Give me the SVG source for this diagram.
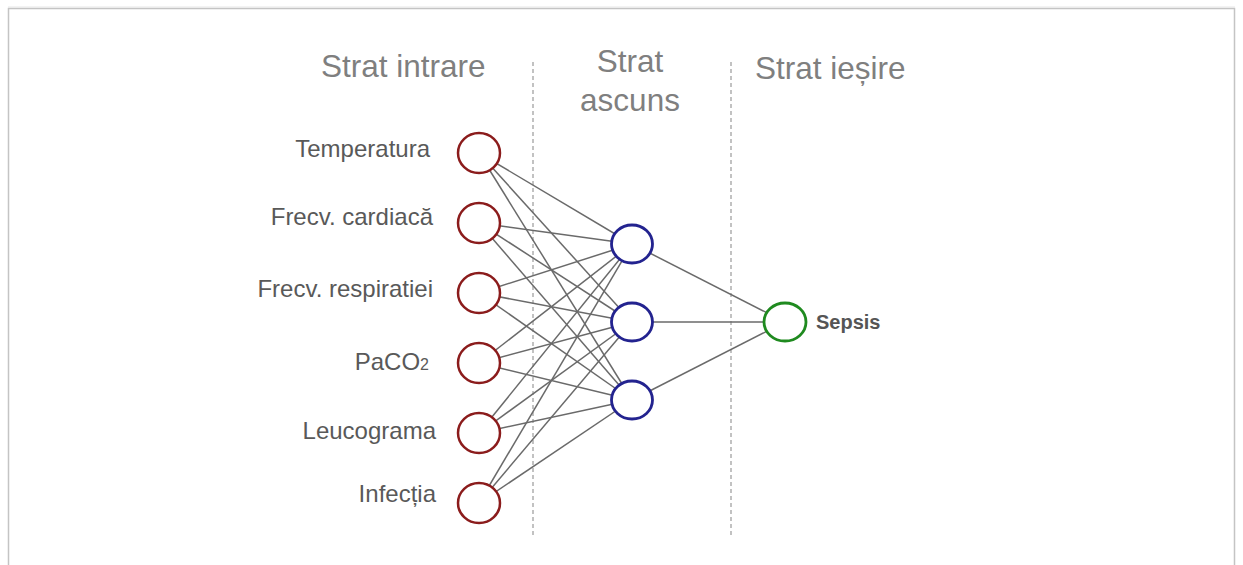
<svg xmlns="http://www.w3.org/2000/svg" width="1243" height="565" viewBox="0 0 1243 565">
  <style>
    .frame { fill: none; stroke: #c4c4c4; stroke-width: 1.5; }
    .sep { stroke: #c2c2c2; stroke-width: 2; stroke-dasharray: 4 3; }
    .head { font-family: "Liberation Sans", Arial, sans-serif; font-size: 31.5px; fill: #7f7f7f; }
    .lbl { font-family: "Liberation Sans", Arial, sans-serif; font-size: 24px; fill: #595959; text-anchor: end; }
    .out { font-family: "Liberation Sans", Arial, sans-serif; font-size: 20px; font-weight: bold; fill: #555555; }
    .edge { stroke: #6a6a6a; stroke-width: 1.5; }
    .in { fill: #ffffff; stroke: #8b1c1c; stroke-width: 2.5; }
    .hid { fill: #ffffff; stroke: #23238f; stroke-width: 2.8; }
    .res { fill: #ffffff; stroke: #1f8a1f; stroke-width: 2.8; }
  </style>

  <!-- page frame, open at the bottom -->
  <path class="frame" d="M8.5,565 V8.5 H1234.5 V565"/>
  <line x1="8" y1="7" x2="1235" y2="7" stroke="#e6e6e6" stroke-width="1"/>

  <!-- layer separators -->
  <line class="sep" x1="533" y1="62" x2="533" y2="535"/>
  <line class="sep" x1="731" y1="62" x2="731" y2="535"/>

  <!-- layer titles -->
  <text class="head" x="321" y="77">Strat intrare</text>
  <text class="head" x="630" y="72" text-anchor="middle">Strat</text>
  <text class="head" x="630" y="111" text-anchor="middle">ascuns</text>
  <text class="head" x="755" y="79">Strat ieșire</text>

  <!-- connectors -->
  <g id="connectors">
    <line class="edge" x1="479" y1="153" x2="632" y2="244"/>
    <line class="edge" x1="479" y1="153" x2="632" y2="322"/>
    <line class="edge" x1="479" y1="153" x2="632" y2="400"/>
    <line class="edge" x1="479" y1="223" x2="632" y2="244"/>
    <line class="edge" x1="479" y1="223" x2="632" y2="322"/>
    <line class="edge" x1="479" y1="223" x2="632" y2="400"/>
    <line class="edge" x1="479" y1="293" x2="632" y2="244"/>
    <line class="edge" x1="479" y1="293" x2="632" y2="322"/>
    <line class="edge" x1="479" y1="293" x2="632" y2="400"/>
    <line class="edge" x1="479" y1="363" x2="632" y2="244"/>
    <line class="edge" x1="479" y1="363" x2="632" y2="322"/>
    <line class="edge" x1="479" y1="363" x2="632" y2="400"/>
    <line class="edge" x1="479" y1="433" x2="632" y2="244"/>
    <line class="edge" x1="479" y1="433" x2="632" y2="322"/>
    <line class="edge" x1="479" y1="433" x2="632" y2="400"/>
    <line class="edge" x1="479" y1="503" x2="632" y2="244"/>
    <line class="edge" x1="479" y1="503" x2="632" y2="322"/>
    <line class="edge" x1="479" y1="503" x2="632" y2="400"/>
    <line class="edge" x1="632" y1="244" x2="785" y2="322"/>
    <line class="edge" x1="632" y1="322" x2="785" y2="322"/>
    <line class="edge" x1="632" y1="400" x2="785" y2="322"/>
  </g>

  <!-- input layer -->
  <g id="in-temperatura">
    <ellipse class="in" cx="479" cy="153" rx="21" ry="20"/>
    <text class="lbl" x="430" y="157">Temperatura</text>
  </g>
  <g id="in-frecv-cardiaca">
    <ellipse class="in" cx="479" cy="223" rx="21" ry="20"/>
    <text class="lbl" x="433" y="225">Frecv. cardiacă</text>
  </g>
  <g id="in-frecv-respiratiei">
    <ellipse class="in" cx="479" cy="293" rx="21" ry="20"/>
    <text class="lbl" x="433" y="297">Frecv. respiratiei</text>
  </g>
  <g id="in-paco2">
    <ellipse class="in" cx="479" cy="363" rx="21" ry="20"/>
    <text class="lbl" x="429" y="370">PaCO<tspan font-size="16">2</tspan></text>
  </g>
  <g id="in-leucograma">
    <ellipse class="in" cx="479" cy="433" rx="21" ry="20"/>
    <text class="lbl" x="436" y="439">Leucograma</text>
  </g>
  <g id="in-infectia">
    <ellipse class="in" cx="479" cy="503" rx="21" ry="20"/>
    <text class="lbl" x="436" y="502">Infecția</text>
  </g>

  <!-- hidden layer -->
  <g id="hid-1"><ellipse class="hid" cx="632" cy="244" rx="20.5" ry="19"/></g>
  <g id="hid-2"><ellipse class="hid" cx="632" cy="322" rx="20.5" ry="19"/></g>
  <g id="hid-3"><ellipse class="hid" cx="632" cy="400" rx="20.5" ry="19"/></g>

  <!-- output layer -->
  <g id="out-sepsis">
    <ellipse class="res" cx="785" cy="322" rx="21" ry="19"/>
    <text class="out" x="816" y="329">Sepsis</text>
  </g>
</svg>
